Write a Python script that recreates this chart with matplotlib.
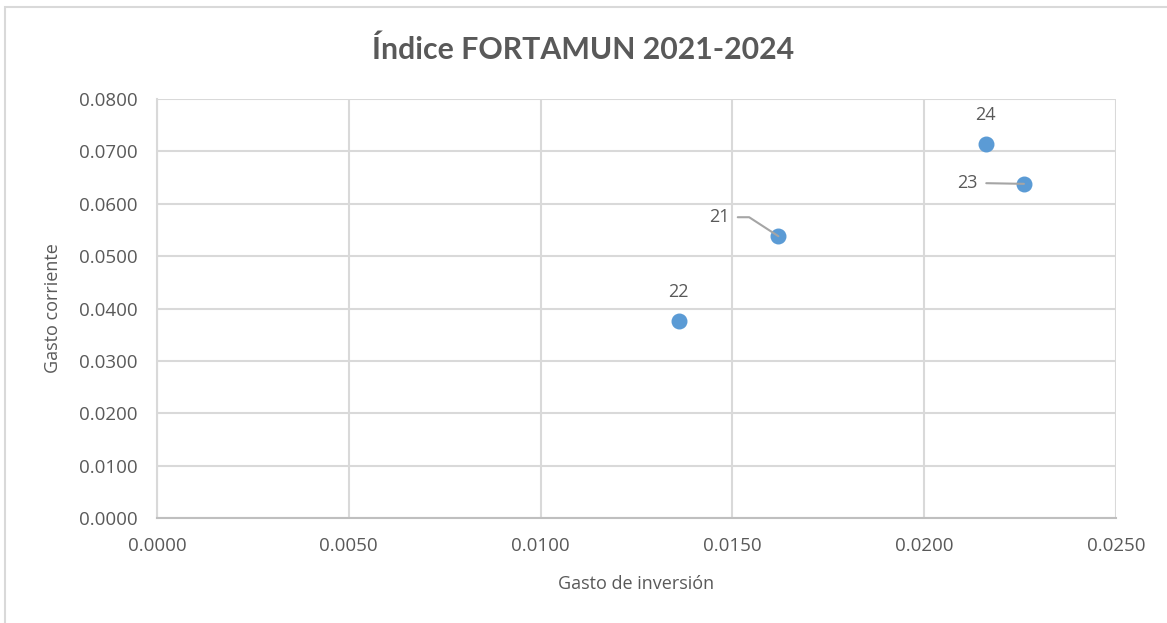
import matplotlib.pyplot as plt
import matplotlib.patches as patches

# datos
anios = ['21', '22', '23', '24']
gasto_inversion = [0.0162, 0.0136, 0.0226, 0.0216]
gasto_corriente = [0.0538, 0.0376, 0.0638, 0.0714]

# desplazamiento de etiquetas (en pixeles) y tipo de línea guía
offsets = {'21': (-49, 19), '22': (0, 20), '23': (-46, 1), '24': (0, 20)}
leader = {'21': 'angle,angleA=0,angleB=147,rad=0', '22': None, '23': 'arc3', '24': None}

txt_color = '#595959'
plt.rcParams['font.family'] = ['Open Sans', 'DejaVu Sans']

fig = plt.figure(figsize=(11.67, 6.23), dpi=100)
ax = fig.add_axes([0.1345, 0.1685, 0.8218, 0.6726])

# marco del gráfico
fig.patches.append(patches.Rectangle((5 / 1167, -0.01), 1.2, 1 - 7 / 623 + 0.01,
                                     transform=fig.transFigure, fill=False,
                                     edgecolor='#D9D9D9', linewidth=1.5))

ax.scatter(gasto_inversion, gasto_corriente, s=110, color='#5B9BD5', zorder=3)

for i, lab in enumerate(anios):
    dx, dy = offsets[lab]
    if leader[lab] is not None:
        ax.annotate(lab, (gasto_inversion[i], gasto_corriente[i]), xytext=(dx * 0.72, dy * 0.72),
                    textcoords='offset points', ha='right', va='center', fontsize=13,
                    color=txt_color,
                    arrowprops=dict(arrowstyle='-', color='#A5A5A5', lw=1.5,
                                    connectionstyle=leader[lab],
                                    shrinkA=4, shrinkB=0))
    else:
        ax.annotate(lab, (gasto_inversion[i], gasto_corriente[i]), xytext=(dx, dy * 0.72),
                    textcoords='offset points', ha='center', va='bottom', fontsize=13,
                    color=txt_color)

ax.set_xlim(0, 0.025)
ax.set_ylim(0, 0.08)
ax.set_xticks([0, 0.005, 0.01, 0.015, 0.02, 0.025])
ax.set_yticks([i * 0.01 for i in range(9)])
ax.xaxis.set_major_formatter(plt.FormatStrFormatter('%.4f'))
ax.yaxis.set_major_formatter(plt.FormatStrFormatter('%.4f'))
ax.tick_params(length=0, labelsize=13.5, labelcolor=txt_color)
ax.tick_params(axis='x', pad=14)
ax.tick_params(axis='y', pad=14)

ax.grid(True, color='#D9D9D9', linewidth=1.5)
ax.set_axisbelow(True)
for s in ['top', 'right']:
    ax.spines[s].set_visible(False)
ax.spines['left'].set_color('#D9D9D9')
ax.spines['left'].set_linewidth(1.5)
ax.spines['bottom'].set_color('#BFBFBF')
ax.spines['bottom'].set_linewidth(1.5)

ax.set_xlabel('Gasto de inversión', fontsize=13, color=txt_color, labelpad=14)
ax.set_ylabel('Gasto corriente', fontsize=13, color=txt_color, labelpad=12)
fig.text(0.5, 1 - 50 / 623, 'Índice FORTAMUN 2021-2024', fontsize=21.8, fontweight='bold',
         color=txt_color, ha='center', va='center', family=['Lato', 'DejaVu Sans'])

plt.savefig('out.png', dpi=100)
